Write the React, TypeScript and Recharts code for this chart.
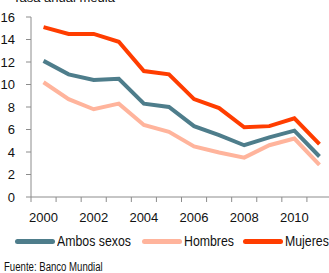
import { CartesianGrid, Line, LineChart, XAxis, YAxis } from 'recharts';

const years = [2000, 2001, 2002, 2003, 2004, 2005, 2006, 2007, 2008, 2009, 2010, 2011];
const ambos = [12.1, 10.9, 10.4, 10.5, 8.3, 8.0, 6.3, 5.5, 4.6, 5.3, 5.9, 3.6];
const hombres = [10.2, 8.7, 7.8, 8.3, 6.4, 5.8, 4.5, 3.95, 3.5, 4.6, 5.2, 2.85];
const mujeres = [15.1, 14.5, 14.5, 13.8, 11.2, 10.9, 8.7, 7.9, 6.2, 6.3, 7.0, 4.7];
const yTicks = [0, 2, 4, 6, 8, 10, 12, 14, 16];

const SERIES = [
  { key: 'ambos', name: 'Ambos sexos', color: '#4E7D8B', left: 15 },
  { key: 'hombres', name: 'Hombres', color: '#FFB49C', left: 142 },
  { key: 'mujeres', name: 'Mujeres', color: '#FF3D00', left: 243 },
];

const data = years.map((year, i) => ({ year, ambos: ambos[i], hombres: hombres[i], mujeres: mujeres[i] }));

const AXIS = '#8c8c8c';
const FONT = '"Liberation Sans", Arial, sans-serif';

// tick marks sit between categories, labels on every other year
function YearTick({ x, y, payload }: any) {
  const half = 12.54;
  return (
    <g>
      <line x1={x - half} x2={x - half} y1={y} y2={y + 5} stroke={AXIS} />
      {payload.value % 2 === 0 && (
        <text x={x} y={y + 25} textAnchor="middle" fontSize={13} fontFamily={FONT} fill="#111">
          {payload.value}
        </text>
      )}
    </g>
  );
}

// narrow look of the source font
const narrow = (scale: number) => ({
  fontFamily: FONT,
  whiteSpace: 'nowrap' as const,
  transform: `scaleX(${scale})`,
  transformOrigin: 'left center',
  color: '#111',
});

export default function App() {
  return (
    <div style={{ position: 'absolute', left: 0, top: 0, width: 329, height: 273, overflow: 'hidden', background: '#fff' }}>
      <div style={{ position: 'absolute', left: 13, top: -9, fontSize: 13, lineHeight: '13px', fontFamily: FONT, color: '#111', whiteSpace: 'nowrap' }}>
        Tasa anual media
      </div>
      <LineChart width={340} height={230} data={data} margin={{ top: 17, right: 8, bottom: 3, left: 0 }}>
        <CartesianGrid stroke="none" />
        <XAxis
          dataKey="year"
          scale="band"
          interval={0}
          tickLine={false}
          tickSize={0}
          tickMargin={0}
          height={30}
          axisLine={{ stroke: AXIS }}
          tick={<YearTick />}
        />
        <YAxis
          domain={[0, 16]}
          ticks={yTicks}
          width={31}
          tickSize={5}
          tickMargin={11}
          axisLine={{ stroke: AXIS }}
          tickLine={{ stroke: AXIS }}
          tick={{ fontSize: 13, fontFamily: FONT, fill: '#111' }}
        />
        {SERIES.map((s) => (
          <Line
            key={s.key}
            dataKey={s.key}
            name={s.name}
            stroke={s.color}
            strokeWidth={4}
            dot={false}
            type="linear"
            isAnimationActive={false}
          />
        ))}
      </LineChart>
      {SERIES.map((s) => (
        <div key={s.key} style={{ position: 'absolute', top: 233, left: s.left, height: 16, display: 'flex', alignItems: 'center' }}>
          <span style={{ display: 'inline-block', width: 40, height: 5, borderRadius: 3, background: s.color, marginRight: 2 }} />
          <span style={{ ...narrow(0.88), fontSize: 14, lineHeight: '16px' }}>{s.name}</span>
        </div>
      ))}
      <div style={{ position: 'absolute', top: 261, left: 4, fontSize: 12, lineHeight: '13px', ...narrow(0.8) }}>
        Fuente: Banco Mundial
      </div>
    </div>
  );
}
